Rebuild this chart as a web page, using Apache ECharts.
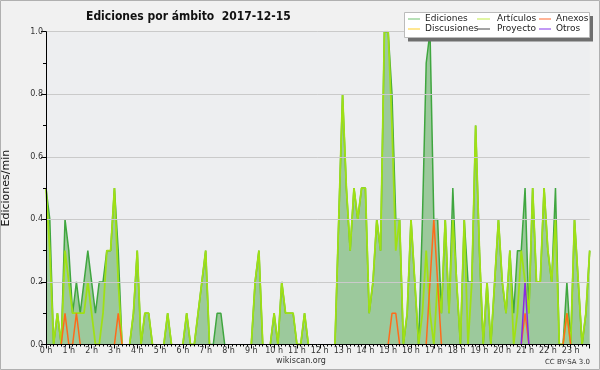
<!DOCTYPE html>
<html><head><meta charset="utf-8">
<script src="https://cdn.jsdelivr.net/npm/echarts@6/dist/echarts.min.js"></script>
<style>html,body{margin:0;padding:0;background:#f1f1f1}#c{width:600px;height:370px}</style>
</head><body><div id="c"></div>
<script>
// tick labels (one per hour; one data point every 10 minutes)
const hourLabels = ['0 h','1 h','2 h','3 h','4 h','5 h','6 h','7 h','8 h','9 h','10 h','11 h',
  '12 h','13 h','14 h','15 h','16 h','17 h','18 h','19 h','20 h','21 h','22 h','23 h'];
const yLabels = ['0.0','0.2','0.4','0.6','0.8','1.0'];

const ediciones = [
  0.5,0.4,0,0.1,0,0.4,0.3,0.1,0.2,0.1,0.2,0.3,
  0.2,0.1,0.2,0.2,0.3,0.3,0.5,0.3,0,0,0,0.1,
  0.3,0,0.1,0.1,0,0,0,0,0.1,0,0,0,
  0,0.1,0,0,0.1,0.2,0.3,0,0,0.1,0.1,0,
  0,0,0,0,0,0,0,0.2,0.3,0,0,0,
  0.1,0,0.2,0.1,0.1,0.1,0,0,0.1,0,0,0,
  0,0,0,0,0,0.4,0.8,0.5,0.3,0.5,0.4,0.5,
  0.5,0.1,0.2,0.4,0.3,1.0,1.0,0.8,0.4,0.4,0,0.1,
  0.4,0.2,0,0.4,0.9,1.0,0.4,0.4,0.1,0.4,0.1,0.5,
  0.2,0,0.4,0.2,0.2,0.7,0.3,0,0.2,0,0.2,0.4,
  0.2,0.1,0.3,0.1,0.3,0.3,0.5,0.1,0.5,0.2,0.2,0.5,
  0.3,0.2,0.5,0,0,0.2,0,0.4,0.2,0,0.1,0.3
];
const articulos = [
  0.5,0.3,0,0.1,0,0.3,0.2,0.1,0.1,0.1,0.1,0.2,
  0.1,0,0,0.1,0.3,0.3,0.5,0.2,0,0,0,0.1,
  0.3,0,0.1,0.1,0,0,0,0,0.1,0,0,0,
  0,0.1,0,0,0.1,0.2,0.3,0,0,0,0,0,
  0,0,0,0,0,0,0,0.2,0.3,0,0,0,
  0.1,0,0.2,0.1,0.1,0.1,0,0,0.1,0,0,0,
  0,0,0,0,0,0.4,0.8,0.5,0.3,0.5,0.4,0.5,
  0.5,0.1,0.2,0.4,0.3,1.0,1.0,0.7,0.3,0.4,0,0.1,
  0.4,0.2,0,0.1,0.3,0.1,0,0.2,0.1,0.4,0.1,0.4,
  0.2,0,0.4,0,0.2,0.7,0.3,0,0.2,0,0.2,0.4,
  0.2,0.1,0.3,0,0.1,0.3,0.2,0.1,0.5,0.2,0.2,0.5,
  0.3,0.2,0.4,0,0,0.1,0,0.4,0.2,0,0.1,0.3
];
const anexos = [
  0,0,0,0,0,0.1,0,0,0.1,0,0,0,
  0,0,0,0,0,0,0,0.1,0,0,0,0,
  0,0,0,0,0,0,0,0,0,0,0,0,
  0,0,0,0,0,0,0,0,0,0,0,0,
  0,0,0,0,0,0,0,0,0,0,0,0,
  0,0,0,0,0,0,0,0,0,0,0,0,
  0,0,0,0,0,0,0,0,0,0,0,0,
  0,0,0,0,0,0,0,0.1,0.1,0,0,0,
  0,0,0,0,0,0.2,0.4,0.2,0,0,0,0,
  0,0,0,0,0,0,0,0,0,0,0,0,
  0,0,0,0,0,0,0.1,0,0,0,0,0,
  0,0,0,0,0,0.1,0,0,0,0,0,0
];
const otros = [
  0,0,0,0,0,0,0,0,0,0,0,0,
  0,0,0,0,0,0,0,0,0,0,0,0,
  0,0,0,0,0,0,0,0,0,0,0,0,
  0,0,0,0,0,0,0,0,0,0,0,0,
  0,0,0,0,0,0,0,0,0,0,0,0,
  0,0,0,0,0,0,0,0,0,0,0,0,
  0,0,0,0,0,0,0,0,0,0,0,0,
  0,0,0,0,0,0,0,0,0,0,0,0,
  0,0,0,0,0,0,0,0,0,0,0,0,
  0,0,0,0,0,0,0,0,0,0,0,0,
  0,0,0,0,0,0,0.2,0,0,0,0,0,
  0,0,0,0,0,0,0,0,0,0,0,0
];
const discusiones = [];
const proyecto = [];

// hide long zero runs (they would lie on the axis line)
function pts(arr){
  return arr.map((v,i)=>{
    const p = i>0 ? arr[i-1] : 0, n = i<arr.length-1 ? arr[i+1] : 0;
    return [i, (v===0 && p===0 && n===0) ? null : v];
  });
}

const chart = echarts.init(document.getElementById('c'), null, {renderer:'canvas'});
const F = 'DejaVu Sans';
const lineSeries = (name, data, color, width, z, extra) => Object.assign({
  name, type:'line', data: pts(data), symbol:'none', showSymbol:false,
  lineStyle:{color, width}, itemStyle:{color}, z, connectNulls:false, silent:true
}, extra||{});
const legText = {fontFamily:F, fontSize:9, color:'#222', lineHeight:10};

chart.setOption({
  animation:false,
  backgroundColor:'#f1f1f1',
  title:{text:'Ediciones por ámbito  2017-12-15', left:81, top:6,
    textStyle:{fontFamily:'DejaVu Sans Condensed, DejaVu Sans', fontWeight:'bold', fontSize:12, color:'#111'}},
  grid:{left:46, right:10.3, top:31.7, bottom:25.5, show:true, backgroundColor:'#edeef0', borderWidth:0,
    outerBoundsMode:'none', containLabel:false},
  legend:[
    {left:408, top:14, z:20, padding:0, orient:'vertical', itemWidth:12, itemHeight:1.2, itemGap:0, icon:'rect',
     textStyle:legText,
     data:[{name:'Ediciones', itemStyle:{color:'#88cc88'}},{name:'Discusiones', itemStyle:{color:'#ffd84a'}}]},
    {left:477, top:14, z:20, padding:0, orient:'vertical', itemWidth:13, itemHeight:1.2, itemGap:0, icon:'rect',
     textStyle:Object.assign({padding:[0,0,0,2]}, legText),
     data:[{name:'Artículos', itemStyle:{color:'#ccee66'}},{name:'Proyecto', itemStyle:{color:'#666666'}}]},
    {left:539, top:14, z:20, padding:0, orient:'vertical', itemWidth:12, itemHeight:1.2, itemGap:0, icon:'rect',
     textStyle:legText,
     data:[{name:'Anexos', itemStyle:{color:'#ff8050'}},{name:'Otros', itemStyle:{color:'#9955ee'}}]}
  ],
  xAxis:{type:'value', min:0, max:143, interval:6, z:8,
    axisLine:{show:true, onZero:false, lineStyle:{color:'#000', width:1}},
    axisTick:{show:true, length:4, lineStyle:{color:'#000'}},
    minorTick:{show:true, splitNumber:6, length:2, lineStyle:{color:'#000'}},
    splitLine:{show:false},
    axisLabel:{fontFamily:F, fontSize:8, color:'#333', margin:2,
      formatter:v=> (v%6===0 ? hourLabels[v/6] : '')}},
  yAxis:{type:'value', min:0, max:1, interval:0.2, z:8,
    axisLine:{show:true, lineStyle:{color:'#000', width:1}},
    axisTick:{show:true, length:5, lineStyle:{color:'#000'}},
    minorTick:{show:true, splitNumber:2, length:3, lineStyle:{color:'#000'}},
    splitLine:{show:true, lineStyle:{color:'#cacaca', width:1}},
    axisLabel:{fontFamily:F, fontSize:8, color:'#333', margin:3,
      formatter:v=> yLabels[Math.round(v*5)]},
    name:'Ediciones/min', nameLocation:'middle', nameGap:34, nameRotate:90,
    nameTextStyle:{fontFamily:F, fontSize:11, color:'#111'}},
  graphic:[
    {type:'rect', shape:{x:0.5,y:0.5,width:599,height:369}, style:{fill:'none', stroke:'#b0b0b0', lineWidth:1}, z:10},
    {type:'rect', shape:{x:408,y:16,width:185,height:25.5}, style:{fill:'#6e6e6e'}, z:9},
    {type:'rect', shape:{x:404.5,y:12.5,width:185,height:25}, style:{fill:'#fff', stroke:'#bbb', lineWidth:1}, z:10},
    {type:'text', x:301, y:361, style:{text:'wikiscan.org', fontFamily:F, fontSize:8, fill:'#333', align:'center', verticalAlign:'middle'}, z:10},
    {type:'text', x:590, y:362, style:{text:'CC BY-SA 3.0', fontFamily:F, fontSize:7, fill:'#333', align:'right', verticalAlign:'middle'}, z:10}
  ],
  series:[
    lineSeries('Ediciones', ediciones, '#3fa63f', 1.5, 2, {areaStyle:{color:'#9cc99c', opacity:1}}),
    lineSeries('Discusiones', discusiones, '#ffd84a', 1.5, 3),
    lineSeries('Proyecto', proyecto, '#555555', 1.5, 3),
    lineSeries('Artículos', articulos, '#9fe015', 1.8, 4),
    lineSeries('Anexos', anexos, '#ff6a1a', 1.5, 5),
    lineSeries('Otros', otros, '#8a2be2', 1.5, 6)
  ]
});
</script></body></html>
